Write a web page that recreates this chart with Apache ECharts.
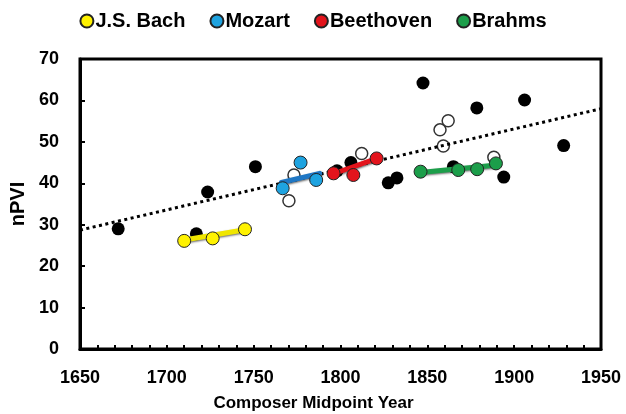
<!DOCTYPE html>
<html>
<head>
<meta charset="utf-8">
<script src="https://cdn.jsdelivr.net/npm/echarts@6/dist/echarts.min.js"></script>
<style>
html,body{margin:0;padding:0;background:#fff;}
#c{width:626px;height:414px;}
</style>
</head>
<body>
<div id="c"></div>
<script>
// ---- data (year, nPVI) ----
const otherFilled = [[1672,29.0],[1717,27.8],[1723.5,37.9],[1751,44.0],[1798,43.0],[1806,45.0],[1827.5,40.1],[1832.5,41.3],[1847.5,64.2],[1878.5,58.2],[1906,60.1],[1928.5,49.1],[1894,41.5],[1865,44.0]];
const otherOpen = [[1770.3,35.8],[1773.2,42.0],[1812.2,47.2],[1862,55.1],[1857.3,52.9],[1859.2,49.0],[1888.3,46.3]];
const bach = [[1710,26.1],[1726.4,26.7],[1745,28.9]];
const mozart = [[1766.7,38.8],[1777,45.0],[1786,40.8]];
const beethoven = [[1796,42.4],[1807.4,42.0],[1820.8,46.0]];
const brahms = [[1846.1,42.8],[1867.8,43.2],[1878.7,43.4],[1889.5,44.8]];
const bachFit = [[1710,26.3],[1745,28.8]];
const mozartFit = [[1766,40.2],[1788,42.4]];
const beethovenFit = [[1796,42.3],[1821,46.0]];
const brahmsFit = [[1846,42.6],[1890,44.4]];
const trend = [[1650,28.7],[1950,58.0]];
const xTicks = [1650,1700,1750,1800,1850,1900,1950];
const yTicks = [0,10,20,30,40,50,60,70];

const colors = {bach:'#FFF200', mozart:'#1EA3E0', beethoven:'#E3141C', brahms:'#1C9E4A'};
const lineColors = {bach:'#F0E600', mozart:'#1F77C4', beethoven:'#E3141C', brahms:'#1C9E4A'};

const chart = echarts.init(document.getElementById('c'), null, {renderer:'canvas'});
const font = 'Liberation Sans, Arial, Helvetica, sans-serif';

function fitLine(data, color){
  return {type:'line', data:data, symbol:'none', z:4, silent:true,
    lineStyle:{color:color, width:5, cap:'round', shadowColor:'rgba(0,0,0,0.55)', shadowBlur:2, shadowOffsetX:1, shadowOffsetY:1}};
}
function pts(name, data, color){
  return {name:name, type:'scatter', data:data, symbol:'circle', symbolSize:13, z:5,
    itemStyle:{color:color, borderColor:'#222', borderWidth:1, opacity:1}};
}
chart.setOption({
  animation:false,
  textStyle:{fontFamily:font},
  legend:{
    top:6, left:'center', itemGap:24, itemWidth:13, itemHeight:13, icon:'circle',
    data:['J.S. Bach','Mozart','Beethoven','Brahms'],
    textStyle:{fontSize:20, fontWeight:'bold', color:'#000', fontFamily:font, padding:[0,0,0,-3]}
  },
  grid:{left:80, right:25, top:59, bottom:65, containLabel:false, outerBoundsMode:'none',
    show:true, borderColor:'#000', borderWidth:3},
  xAxis:{
    type:'value', min:xTicks[0], max:xTicks[xTicks.length-1], interval:50,
    name:'Composer Midpoint Year', nameLocation:'middle', nameGap:46,
    nameTextStyle:{fontSize:17, fontWeight:'bold', color:'#000', fontFamily:font, padding:[0,54,0,0]},
    axisLine:{show:true, onZero:false, lineStyle:{color:'#000', width:3}},
    axisTick:{show:true, inside:true, length:4, lineStyle:{color:'#000', width:2}},
    minorTick:{show:true, splitNumber:5, length:4, lineStyle:{color:'#000', width:2}},
    axisLabel:{fontSize:18, fontWeight:'bold', color:'#000', margin:20, fontFamily:font, formatter:v=>String(v)},
    splitLine:{show:false}
  },
  yAxis:{
    type:'value', min:yTicks[0], max:yTicks[yTicks.length-1], interval:10,
    name:'nPVI', nameLocation:'middle', nameGap:27, nameRotate:90,
    nameTextStyle:{fontSize:20, fontWeight:'bold', color:'#000', fontFamily:font},
    axisLine:{show:true, lineStyle:{color:'#000', width:3}},
    axisTick:{show:true, inside:true, length:5, lineStyle:{color:'#000', width:2}},
    axisLabel:{fontSize:18, fontWeight:'bold', color:'#000', margin:21, fontFamily:font},
    splitLine:{show:false}
  },
  series:[
    {type:'scatter', data:otherFilled, symbol:'circle', symbolSize:13, z:2, silent:true,
      itemStyle:{color:'#000', opacity:1}},
    {type:'scatter', data:otherOpen, symbol:'circle', symbolSize:12, z:2, silent:true,
      itemStyle:{color:'#fff', borderColor:'#333', borderWidth:1.5, opacity:1}},
    {type:'line', data:trend, symbol:'none', z:3, silent:true,
      lineStyle:{color:'#000', width:3, type:[3,3.5]}},
    fitLine(bachFit, lineColors.bach),
    fitLine(mozartFit, lineColors.mozart),
    fitLine(beethovenFit, lineColors.beethoven),
    fitLine(brahmsFit, lineColors.brahms),
    pts('J.S. Bach', bach, colors.bach),
    pts('Mozart', mozart, colors.mozart),
    pts('Beethoven', beethoven, colors.beethoven),
    pts('Brahms', brahms, colors.brahms)
  ]
});
</script>
</body>
</html>
